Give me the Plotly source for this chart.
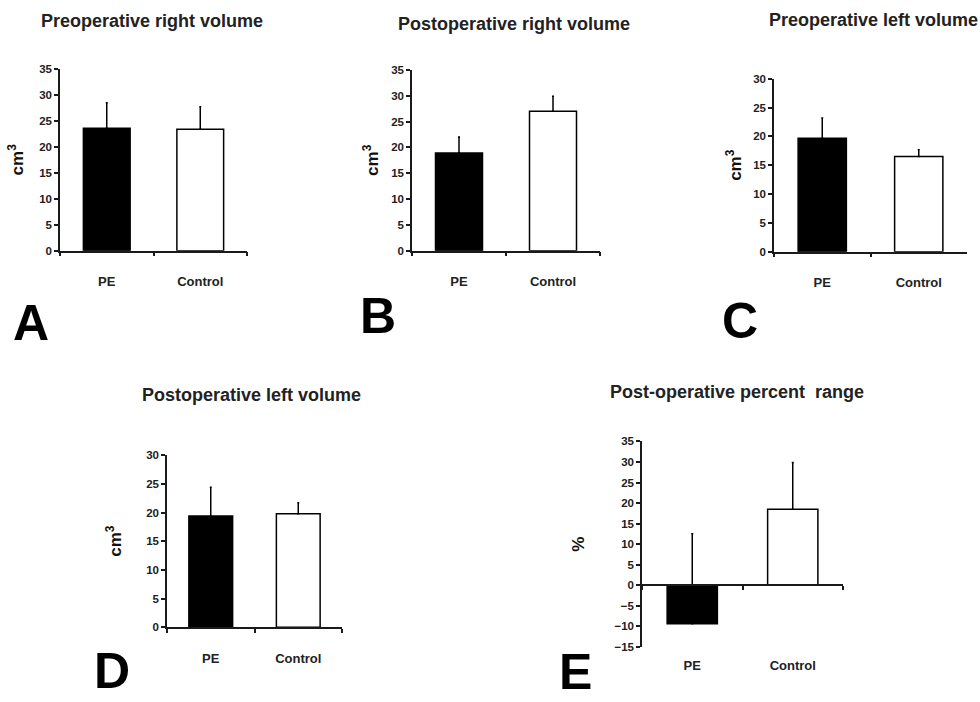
import plotly.graph_objects as go

W, H = 980, 702

categories = ["PE", "Control"]

A_means = [23.6, 23.4]
A_err = [4.9, 4.3]
B_means = [18.9, 27.0]
B_err = [3.1, 2.9]
C_means = [19.7, 16.5]
C_err = [3.5, 1.2]
D_means = [19.4, 19.8]
D_err = [5.0, 1.9]
E_means = [-9.4, 18.5]
E_err = [21.9, 11.4]

titles = ["Preoperative right volume", "Postoperative right volume",
          "Preoperative left volume", "Postoperative left volume",
          "Post-operative percent  range"]
letters = ["A", "B", "C", "D", "E"]
ylabels = ["cm<sup>3</sup>", "cm<sup>3</sup>", "cm<sup>3</sup>", "cm<sup>3</sup>", "%"]
yranges = [[0, 35], [0, 35], [0, 30], [0, 30], [-15, 35]]

# panel boxes in pixels: (x0, x1, ytop, ybottom)
boxes = [(60, 247, 64, 249), (412, 600, 65, 249), (774, 967, 74, 250),
         (167, 342, 457, 632), (642, 843, 443, 652)]
title_pos = [(152, 15), (514, 18), (873, 14), (251, 396), (737, 393)]
letter_pos = [(31, 323), (378, 315), (740, 320), (112, 677), (575, 678)]
ystandoff = [11, 8, 7, 20, 25]
xstandoff = [18, 18, 18, 18, 68]

means = [A_means, B_means, C_means, D_means, E_means]
errs = [A_err, B_err, C_err, D_err, E_err]

FONT = "Liberation Sans, Arial, sans-serif"
AX = "#1a1a1a"

fig = go.Figure()
layout = {}
annotations = []

for i in range(5):
    n = "" if i == 0 else str(i + 1)
    x0, x1, yt, yb = boxes[i]
    xd = [x0 / W, x1 / W]
    yd = [1 - yb / H, 1 - yt / H]
    fig.add_trace(go.Bar(
        x=categories, y=means[i],
        marker=dict(color=["black", "white"], line=dict(color="black", width=1.5)),
        error_y=dict(type="data", array=errs[i], arrayminus=[0, 0], symmetric=False,
                     color="black", thickness=1.5, width=1),
        xaxis="x" + n, yaxis="y" + n, showlegend=False,
    ))
    xa = dict(domain=xd, anchor="y" + n, type="category",
              categoryorder="array", categoryarray=categories,
              showline=True, linecolor=AX, linewidth=1.5,
              ticks="outside", tickson="boundaries", ticklen=4, tickcolor=AX,
              tickwidth=1.5, showgrid=False, zeroline=False,
              tickfont=dict(family=FONT, size=13, color="#222", weight="bold"),
              ticklabelstandoff=xstandoff[i], range=[-0.5, 1.5], fixedrange=True)
    ylo, yhi = yranges[i]
    if ylo < 0:
        xa["anchor"] = "free"
        xa["position"] = yd[0] + (0 - ylo) / (yhi - ylo) * (yd[1] - yd[0])
    ya = dict(domain=yd, anchor="x" + n, range=yranges[i], dtick=5,
              showline=True, linecolor=AX, linewidth=1.5,
              ticks="outside", ticklen=4, tickcolor=AX, tickwidth=1.5,
              showgrid=False, zeroline=False,
              tickfont=dict(family=FONT, size=11.5, color="#222", weight="bold"),
              title=dict(text=ylabels[i], standoff=ystandoff[i],
                         font=dict(family=FONT, size=17, color="#111", weight="bold")),
              fixedrange=True)
    layout["xaxis" + n] = xa
    layout["yaxis" + n] = ya
    tx, ty = title_pos[i]
    annotations.append(dict(text=titles[i], x=tx / W, y=1 - ty / H, xref="paper", yref="paper",
                            showarrow=False, xanchor="center", yanchor="middle",
                            font=dict(family=FONT, size=18, color="#222", weight="bold")))
    lx, ly = letter_pos[i]
    annotations.append(dict(text=letters[i], x=lx / W, y=1 - ly / H, xref="paper", yref="paper",
                            showarrow=False, xanchor="center", yanchor="middle",
                            font=dict(family=FONT, size=50, color="black", weight="bold")))

fig.update_layout(**layout)
fig.update_layout(width=W, height=H, margin=dict(l=0, r=0, t=0, b=0),
                  paper_bgcolor="white", plot_bgcolor="white",
                  bargap=0.5, annotations=annotations)

fig.write_html("out.html", config={"displayModeBar": False},
               post_script="document.body.style.margin='0';document.body.style.padding='0';")
